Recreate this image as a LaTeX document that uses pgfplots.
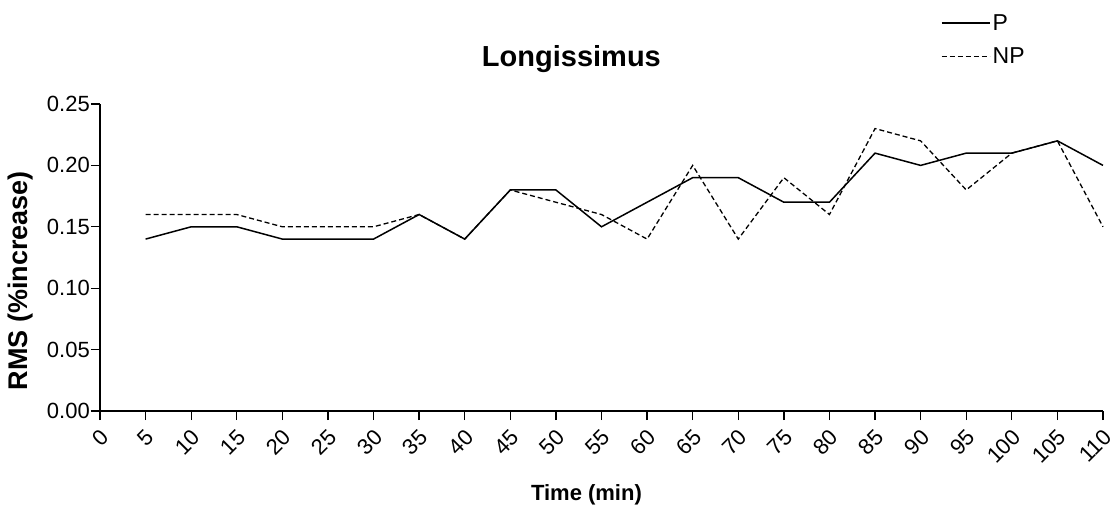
\documentclass[border=0pt]{standalone}
\usepackage{pgfplots}
\pgfplotsset{compat=1.18}
\usepackage{fontspec}
\setmainfont{Liberation Sans}
\begin{document}
\begin{tikzpicture}
\begin{axis}[
  name=ax,
  scale only axis,
  width=1003pt, height=307pt,
  xmin=0, xmax=110, ymin=0, ymax=0.25,
  axis lines*=left,
  axis line style={line width=1.3pt},
  xtick={0,5,...,110},
  ytick={0,0.05,...,0.25},
  tick style={black, line width=1.3pt},
  tick align=outside,
  major tick length=9pt,
  /pgf/number format/assume math mode=true,
  yticklabel style={/pgf/number format/fixed, /pgf/number format/fixed zerofill, /pgf/number format/precision=2, font=\fontsize{22}{26}\selectfont, inner sep=1pt},
  xticklabel style={rotate=45, anchor=north east, font=\fontsize{22}{26}\selectfont, inner sep=1pt, xshift=-5pt, yshift=-4pt},
  xlabel={\textbf{Time (min)}},
  ylabel={\textbf{RMS (\%increase)}},
  xlabel style={font=\fontsize{22}{26}\selectfont, at={(rel axis cs:0.485,0)}, anchor=base, yshift=-89pt},
  ylabel style={font=\fontsize{27}{32}\selectfont, at={(rel axis cs:0,0.5)}, anchor=center, yshift=79pt, xshift=-23pt},
  title={\textbf{Longissimus}},
  title style={font=\fontsize{29}{34}\selectfont, at={(rel axis cs:0.47,1)}, anchor=base, yshift=31pt},
  legend style={at={(rel axis cs:0,1)}, anchor=north west, xshift=841pt, yshift=92pt, draw=none, fill=none, font=\fontsize{23}{27}\selectfont, row sep=12pt, inner sep=0pt},
  legend cell align=left,
  legend image code/.code={\draw[#1, line width=1.2pt] (0pt,0pt) -- (33pt,0pt); \path (0pt,0pt) -- (48pt,0pt);},
  clip=false,
]
\addplot[black, line width=1.5pt] coordinates {
(5,0.14)(10,0.15)(15,0.15)(20,0.14)(25,0.14)(30,0.14)(35,0.16)(40,0.14)(45,0.18)(50,0.18)(55,0.15)(60,0.17)(65,0.19)(70,0.19)(75,0.17)(80,0.17)(85,0.21)(90,0.20)(95,0.21)(100,0.21)(105,0.22)(110,0.20)};
\addlegendentry{P}
\addplot[black, line width=1.3pt, dash pattern=on 5pt off 3pt] coordinates {
(5,0.16)(10,0.16)(15,0.16)(20,0.15)(25,0.15)(30,0.15)(35,0.16)(40,0.14)(45,0.18)(50,0.17)(55,0.16)(60,0.14)(65,0.20)(70,0.14)(75,0.19)(80,0.16)(85,0.23)(90,0.22)(95,0.18)(100,0.21)(105,0.22)(110,0.15)};
\addlegendentry{NP}
\end{axis}
\pgfresetboundingbox
\path (ax.south west) ++(-100pt,-95pt) rectangle ++(1110pt,506pt);
\end{tikzpicture}
\end{document}
